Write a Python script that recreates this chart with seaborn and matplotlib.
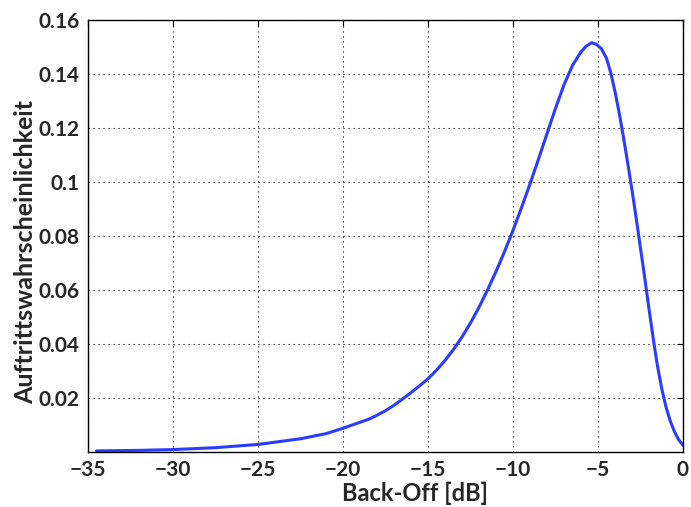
import matplotlib
matplotlib.use("Agg")
import matplotlib.pyplot as plt
import seaborn as sns
import pandas as pd

# values
backoff_db = [-34.5, -32.0, -30.0, -27.5, -25.0, -22.5, -21.0, -20.0, -19.0, -18.5,
              -18.0, -17.5, -17.0, -16.5, -16.0, -15.5, -15.0, -14.5, -14.0, -13.5,
              -13.0, -12.5, -12.0, -11.5, -11.0, -10.5, -10.0, -9.5, -9.0, -8.5,
              -8.0, -7.5, -7.0, -6.5, -6.0, -5.7, -5.37, -5.1, -4.8, -4.5,
              -4.25, -4.0, -3.75, -3.5, -3.25, -3.0, -2.75, -2.5, -2.25, -2.0,
              -1.75, -1.5, -1.25, -1.0, -0.75, -0.5, -0.25, 0.0]
probability = [0.0004, 0.0006, 0.0009, 0.0016, 0.0028, 0.0049, 0.0068, 0.0088, 0.0110, 0.0121,
               0.0136, 0.0153, 0.0173, 0.0196, 0.0220, 0.0245, 0.0271, 0.0303, 0.0339, 0.0380,
               0.0426, 0.0478, 0.0536, 0.0600, 0.0668, 0.0742, 0.0821, 0.0905, 0.0993, 0.1085,
               0.1179, 0.1273, 0.1360, 0.1432, 0.1482, 0.1503, 0.1516, 0.1510, 0.1494, 0.1458,
               0.1405, 0.1335, 0.1255, 0.1165, 0.1070, 0.0970, 0.0865, 0.0755, 0.0645, 0.0530,
               0.0420, 0.0318, 0.0235, 0.0167, 0.0115, 0.0075, 0.0045, 0.0025]

x_ticks = [-35, -30, -25, -20, -15, -10, -5, 0]
y_ticks = [0.02, 0.04, 0.06, 0.08, 0.1, 0.12, 0.14, 0.16]
y_labels = ["0.02", "0.04", "0.06", "0.08", "0.1", "0.12", "0.14", "0.16"]

df = pd.DataFrame({"backoff": backoff_db, "p": probability})

sns.set_style("white")
plt.rcParams["font.family"] = ["Lato", "DejaVu Sans"]
plt.rcParams["font.weight"] = "bold"

fig = plt.figure(figsize=(6.91, 5.07), dpi=100)
ax = fig.add_axes([0.1274, 0.1085, 0.861, 0.852])

sns.lineplot(data=df, x="backoff", y="p", ax=ax, color="#2a3dff", linewidth=2.2,
             estimator=None, sort=False)

ax.set_xlim(-35, 0)
ax.set_ylim(0, 0.16)
ax.set_xticks(x_ticks)
ax.set_xticklabels([f"\u2212{-t}" if t < 0 else str(t) for t in x_ticks])
ax.set_yticks(y_ticks)
ax.set_yticklabels(y_labels)
ax.grid(True, color="black", linestyle=(0, (1, 3.5)), linewidth=0.8)

ax.tick_params(direction="in", length=4, width=0.8, top=True, right=True,
               labelsize=15, pad=6, color="black")
for s in ax.spines.values():
    s.set_color("black")
    s.set_linewidth(1.0)

ax.set_xlabel("Back-Off [dB]", fontsize=17, fontweight="bold")
ax.xaxis.set_label_coords(0.55, -0.068)
ax.set_ylabel("Auftrittswahrscheinlichkeit", fontsize=18, fontweight="bold")
ax.yaxis.set_label_coords(-0.086, 0.463)

fig.savefig("out.png", dpi=100)
